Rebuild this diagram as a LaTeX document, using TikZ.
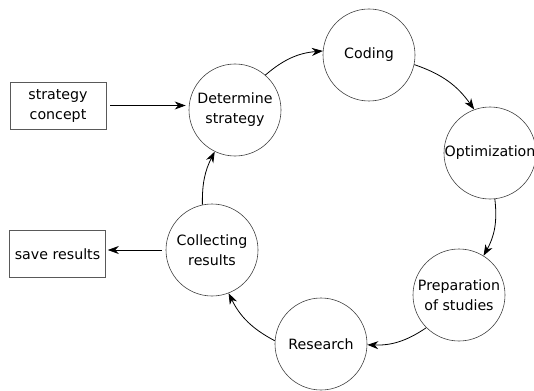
\documentclass[tikz,border=0pt]{standalone}
\usepackage{fontspec}
\setmainfont{DejaVu Sans}
\usetikzlibrary{arrows.meta}
\begin{document}
\begin{tikzpicture}[x=1pt,y=-1pt,
    stage/.style={circle,draw=black!75,line width=0.6pt,minimum size=92pt,inner sep=0pt,align=center,font=\fontsize{14.2}{20}\selectfont},
    item/.style={rectangle,draw=black!65,line width=0.6pt,minimum width=96pt,minimum height=47pt,inner sep=0pt,align=center,font=\fontsize{14.2}{20}\selectfont},
    flow/.style={-{Stealth[length=11pt,width=8pt,inset=3.5pt]},line width=0.8pt}]
    \useasboundingbox (0,0) rectangle (534,390);
    % Cycle
    \node[stage] (DS) at (235,110) {Determine\\strategy};
    \node[stage] (C) at (369,55) {Coding};
    \node[stage] (O) at (490,153) {Optimization};
    \node[stage] (P) at (459,295) {Preparation\\of studies};
    \node[stage] (R) at (321,344) {Research};
    \node[stage] (CR) at (212,250) {Collecting\\results};
    % Input and output
    \node[item] (SC) at (58,105.5) {strategy\\concept};
    \node[item] (SR) at (57.5,254) {save results};
    % Connections
    \draw[flow] (DS.49) to[bend left=18] (C.175);
    \draw[flow] (C.-12) to[bend left=18] (O.110);
    \draw[flow] (O.-84) to[bend left=18] (P.58);
    \draw[flow] (P.-135) to[bend left=18] (R.-1);
    \draw[flow] (R.176) to[bend left=18] (CR.-69);
    \draw[flow] (CR.102) to[bend left=14] (DS.-116);
    \draw[flow,shorten <=4pt,shorten >=3pt] (SC.east) -- (SC.east -| DS.west);
    \draw[flow,shorten <=4pt,shorten >=2pt] (CR.west) -- (CR.west -| SR.east);
\end{tikzpicture}
\end{document}
